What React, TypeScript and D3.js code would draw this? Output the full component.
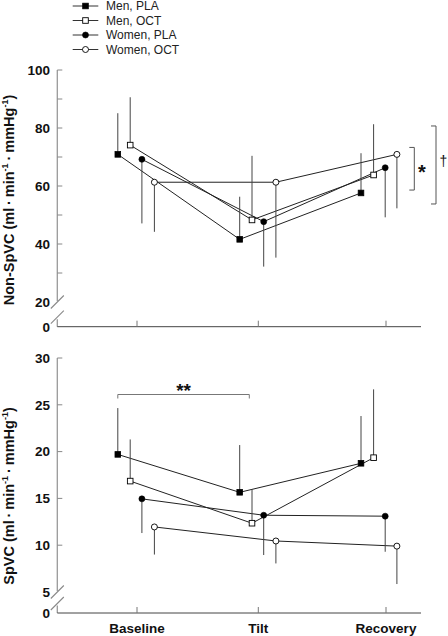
import React from "react";
import * as d3 from "d3";

// ---------- data ----------
const categories = ["Baseline", "Tilt", "Recovery"];
const seriesNames = ["Men, PLA", "Men, OCT", "Women, PLA", "Women, OCT"];
const seriesMarker = ["square-filled", "square-open", "circle-filled", "circle-open"];
const seriesErrorDir = [1, 1, -1, -1]; // +1 error bar up, -1 down

// Non-SpVC (top panel)
const nonMenPLA = [70.9, 41.6, 57.6];
const nonMenPLASD = [14.2, 14.7, 13.7];
const nonMenOCT = [74.1, 48.3, 63.8];
const nonMenOCTSD = [16.5, 22.1, 17.5];
const nonWomenPLA = [69.2, 47.7, 66.3];
const nonWomenPLASD = [22.1, 15.5, 17.1];
const nonWomenOCT = [61.3, 61.3, 70.9];
const nonWomenOCTSD = [17.1, 26.0, 18.6];

// SpVC (bottom panel)
const spMenPLA = [19.7, 15.65, 18.75];
const spMenPLASD = [4.95, 5.05, 5.05];
const spMenOCT = [16.85, 12.35, 19.35];
const spMenOCTSD = [4.45, 3.65, 7.3];
const spWomenPLA = [14.95, 13.2, 13.1];
const spWomenPLASD = [3.65, 4.25, 3.8];
const spWomenOCT = [11.95, 10.45, 9.9];
const spWomenOCTSD = [2.95, 2.4, 4.05];

// axis ticks
const topMajorTicks = [40, 60, 80, 100];
const topMinorTicks = [30, 50, 70, 90];
const topBreakLabel = 20;
const bottomMajorTicks = [10, 15, 20, 25, 30];
const bottomBreakLabel = 5;

// significance annotations
const topStarRange = [58.6, 73.3];
const topDaggerRange = [53.8, 80.7];
const bottomDoubleStarLevel = 26.1;

// ---------- layout ----------
const W = 448;
const H = 636;
const axisX = 57.3;
const axisRight = 421;
const catX = d3.scaleOrdinal<string, number>().domain(categories).range([137, 258.3, 386]);
const seriesOffsets = [
  [-19.2, -18.6, -25],
  [-6.8, -6.3, -12.4],
  [4.9, 5.4, -0.8],
  [17.4, 17.6, 10.9],
];

const topY = d3.scaleLinear().domain([20, 100]).range([302, 70]);
const topZeroY = 326.7;
const botY = d3.scaleLinear().domain([5, 30]).range([592, 358]);
const botZeroY = 613;

const FONT = "'Liberation Sans', Arial, sans-serif";
const LINE = "#222";
const ERR = "#444";

type Series = { name: string; marker: string; dir: number; mean: number[]; sd: number[] };

const topSeries: Series[] = [
  [nonMenPLA, nonMenPLASD],
  [nonMenOCT, nonMenOCTSD],
  [nonWomenPLA, nonWomenPLASD],
  [nonWomenOCT, nonWomenOCTSD],
].map(([m, s], i) => ({ name: seriesNames[i], marker: seriesMarker[i], dir: seriesErrorDir[i], mean: m, sd: s }));

const botSeries: Series[] = [
  [spMenPLA, spMenPLASD],
  [spMenOCT, spMenOCTSD],
  [spWomenPLA, spWomenPLASD],
  [spWomenOCT, spWomenOCTSD],
].map(([m, s], i) => ({ name: seriesNames[i], marker: seriesMarker[i], dir: seriesErrorDir[i], mean: m, sd: s }));

function Marker({ type, x, y }: { type: string; x: number; y: number }) {
  const s = 5.6;
  if (type === "square-filled")
    return <rect x={x - s / 2} y={y - s / 2} width={s} height={s} fill="#000" stroke="#000" strokeWidth={0.8} />;
  if (type === "square-open")
    return <rect x={x - s / 2} y={y - s / 2} width={s} height={s} fill="#fff" stroke="#000" strokeWidth={0.9} />;
  if (type === "circle-filled") return <circle cx={x} cy={y} r={3} fill="#000" stroke="#000" strokeWidth={0.6} />;
  return <circle cx={x} cy={y} r={3} fill="#fff" stroke="#000" strokeWidth={0.9} />;
}

function Panel({
  series,
  y,
  zeroY,
  majorTicks,
  minorTicks,
  breakValue,
  title,
  titleCenter,
  showCats,
}: {
  series: Series[];
  y: d3.ScaleLinear<number, number>;
  zeroY: number;
  majorTicks: number[];
  minorTicks: number[];
  breakValue: number;
  title: string;
  titleCenter: number;
  showCats: boolean;
}) {
  const top = y.range()[1];
  const breakY = y(breakValue);
  const slash2Y = zeroY - 9.5;
  const line = d3
    .line<[number, number]>()
    .x((d) => d[0])
    .y((d) => d[1]);
  return (
    <g>
      {/* y axis */}
      <line x1={axisX} x2={axisX} y1={top} y2={breakY - 1} stroke="#999" strokeWidth={1.3} />
      <line x1={axisX} x2={axisX} y1={slash2Y + 2} y2={zeroY} stroke="#999" strokeWidth={1.3} />
      <line x1={axisX - 6.5} x2={axisX + 6.5} y1={breakY + 6.5} y2={breakY - 6.5} stroke="#888" strokeWidth={1.1} />
      <line x1={axisX - 6.5} x2={axisX + 6.5} y1={slash2Y + 6.5} y2={slash2Y - 6.5} stroke="#888" strokeWidth={1.1} />
      {majorTicks.concat(minorTicks).map((t) => (
        <line key={t} x1={axisX} x2={axisX + 5} y1={y(t)} y2={y(t)} stroke="#888" strokeWidth={1} />
      ))}
      {majorTicks.concat([breakValue]).map((t) => (
        <text
          key={t}
          x={50}
          y={y(t)}
          dy="0.36em"
          textAnchor="end"
          fontFamily={FONT}
          fontWeight="bold"
          fontSize={13.5}
          fill="#111"
        >
          {t}
        </text>
      ))}
      <text x={50} y={zeroY} dy="0.36em" textAnchor="end" fontFamily={FONT} fontWeight="bold" fontSize={13.5} fill="#111">
        0
      </text>
      {/* x axis */}
      <line x1={axisX} x2={axisRight} y1={zeroY} y2={zeroY} stroke="#444" strokeWidth={1} />
      {categories.map((c) => (
        <line key={c} x1={catX(c)} x2={catX(c)} y1={zeroY - 6} y2={zeroY} stroke="#777" strokeWidth={1} />
      ))}
      {showCats &&
        categories.map((c) => (
          <text key={c} x={catX(c)} y={633} textAnchor="middle" fontFamily={FONT} fontWeight="bold" fontSize={13.5} fill="#111">
            {c}
          </text>
        ))}
      {/* title */}
      <text
        transform={`translate(14,${titleCenter}) rotate(-90)`}
        textAnchor="middle"
        fontFamily={FONT}
        fontWeight="bold"
        fontSize={14.5}
        fill="#111"
      >
        {title}
        {" (ml\u2009\u00b7\u2009min"}
        <tspan fontSize={9} dy={-6}>
          -1
        </tspan>
        <tspan dy={6}>{"\u2009\u00b7\u2009mmHg"}</tspan>
        <tspan fontSize={9} dy={-6}>
          -1
        </tspan>
        <tspan dy={6}>)</tspan>
      </text>
      {/* lines */}
      {series.map((s, i) => (
        <path
          key={s.name}
          d={line(s.mean.map((m, j) => [catX(categories[j]) + seriesOffsets[i][j], y(m)] as [number, number])) || ""}
          fill="none"
          stroke={LINE}
          strokeWidth={1}
        />
      ))}
      {/* error bars */}
      {series.map((s, i) =>
        s.mean.map((m, j) => {
          const x = catX(categories[j]) + seriesOffsets[i][j];
          return (
            <line key={s.name + j} x1={x} x2={x} y1={y(m)} y2={y(m + s.dir * s.sd[j])} stroke={ERR} strokeWidth={1} />
          );
        })
      )}
      {/* markers */}
      {series.map((s, i) =>
        s.mean.map((m, j) => (
          <Marker key={s.name + j} type={s.marker} x={catX(categories[j]) + seriesOffsets[i][j]} y={y(m)} />
        ))
      )}
    </g>
  );
}

function Legend() {
  const rowY = [6, 20.5, 35, 49.5];
  return (
    <g>
      {seriesNames.map((n, i) => (
        <g key={n}>
          <line x1={72.7} x2={98.3} y1={rowY[i]} y2={rowY[i]} stroke="#333" strokeWidth={1} />
          <Marker type={seriesMarker[i]} x={85.5} y={rowY[i]} />
          <text x={106} y={rowY[i]} dy="0.36em" fontFamily={FONT} fontSize={12} fill="#222">
            {n}
          </text>
        </g>
      ))}
    </g>
  );
}

export default function App() {
  const bracket = (x: number, r: number[], yS: d3.ScaleLinear<number, number>) => {
    const y1 = yS(r[1]);
    const y2 = yS(r[0]);
    return `M${x - 5},${y1}H${x}V${y2}H${x - 5}`;
  };
  const starX = 414.3;
  const daggerX = 436;
  const bx1 = catX("Baseline") + seriesOffsets[0][0];
  const bx2 = catX("Tilt") - 9;
  const by = botY(bottomDoubleStarLevel);
  return (
    <svg
      width={W}
      height={H}
      viewBox={`0 0 ${W} ${H}`}
      style={{ position: "absolute", left: 0, top: 0, background: "#fff" }}
    >
      <rect x={0} y={0} width={W} height={H} fill="#fff" />
      <Legend />
      <Panel
        series={topSeries}
        y={topY}
        zeroY={topZeroY}
        majorTicks={topMajorTicks}
        minorTicks={topMinorTicks}
        breakValue={topBreakLabel}
        title="Non-SpVC"
        titleCenter={200}
        showCats={false}
      />
      <Panel
        series={botSeries}
        y={botY}
        zeroY={botZeroY}
        majorTicks={bottomMajorTicks}
        minorTicks={[]}
        breakValue={bottomBreakLabel}
        title="SpVC"
        titleCenter={496}
        showCats={true}
      />
      {/* significance marks */}
      <path d={bracket(starX, topStarRange, topY)} fill="none" stroke="#555" strokeWidth={1} />
      <text x={422} y={(topY(topStarRange[0]) + topY(topStarRange[1])) / 2 + 10} textAnchor="middle" fontFamily={FONT} fontWeight="bold" fontSize={20} fill="#111">
        *
      </text>
      <path d={bracket(daggerX, topDaggerRange, topY)} fill="none" stroke="#555" strokeWidth={1} />
      <text x={443.5} y={(topY(topDaggerRange[0]) + topY(topDaggerRange[1])) / 2 - 4} dy="0.36em" textAnchor="middle" fontFamily={FONT} fontSize={14} fill="#111">
        †
      </text>
      <path d={`M${bx1},${by + 4}V${by}H${bx2}V${by + 4}`} fill="none" stroke="#777" strokeWidth={1} />
      <text x={(bx1 + bx2) / 2} y={by + 2} textAnchor="middle" fontFamily={FONT} fontWeight="bold" fontSize={19} fill="#111">
        **
      </text>
    </svg>
  );
}
